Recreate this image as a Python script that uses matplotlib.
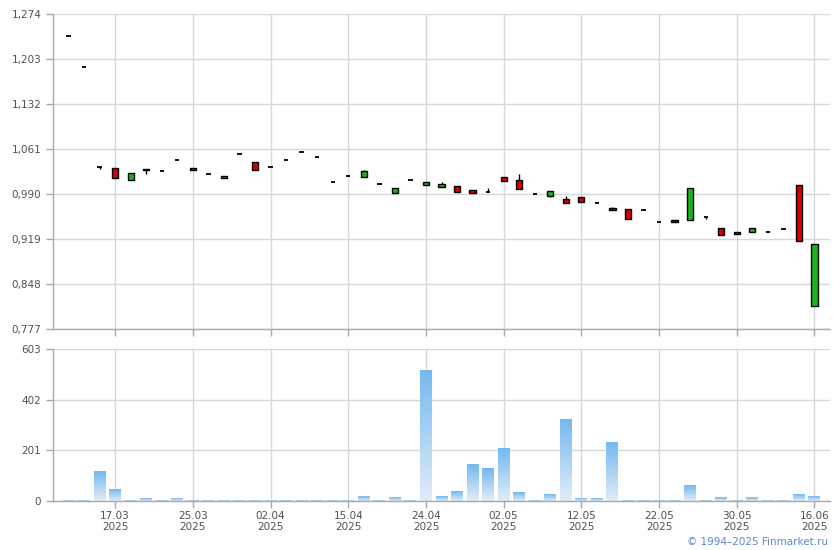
import matplotlib
matplotlib.use("Agg")
import matplotlib.pyplot as plt
import numpy as np
from matplotlib.patches import Rectangle

# ---- data ----
tick_pos = [3, 8, 13, 18, 23, 28, 33, 38, 43, 48]
tick_labels = ["17.03\n2025", "25.03\n2025", "02.04\n2025", "15.04\n2025", "24.04\n2025",
               "02.05\n2025", "12.05\n2025", "22.05\n2025", "30.05\n2025", "16.06\n2025"]

opens = [1.2393, 1.1904, 1.0331, 1.0305, 1.0116, 1.0290, 1.0258, 1.0432, 1.0305, 1.0216,
         1.0148, 1.0526, 1.0400, 1.0321, 1.0432, 1.0558, 1.0479, 1.0084, 1.0179, 1.0173,
         1.0053, 0.9921, 1.0116, 1.0047, 1.0016, 1.0026, 0.9963, 0.9937, 1.0168, 1.0121,
         0.9900, 0.9874, 0.9821, 0.9853, 0.9753, 0.9679, 0.9658, 0.9643, 0.9453, 0.9490,
         0.9485, 0.9532, 0.9359, 0.9300, 0.9296, 0.9296, 0.9343, 1.0037, 0.8133]
closes = [1.2393, 1.1904, 1.0331, 1.0157, 1.0227, 1.0272, 1.0258, 1.0432, 1.0274, 1.0216,
          1.0184, 1.0526, 1.0284, 1.0321, 1.0432, 1.0558, 1.0479, 1.0084, 1.0179, 1.0258,
          1.0053, 0.9990, 1.0116, 1.0089, 1.0058, 0.9936, 0.9921, 0.9937, 1.0110, 0.9984,
          0.9900, 0.9947, 0.9763, 0.9778, 0.9753, 0.9655, 0.9500, 0.9643, 0.9453, 0.9465,
          0.9990, 0.9532, 0.9248, 0.9276, 0.9359, 0.9296, 0.9343, 0.9154, 0.9116]
highs = [1.2393, 1.1904, 1.0331, 1.0305, 1.0227, 1.0290, 1.0258, 1.0432, 1.0305, 1.0216,
         1.0184, 1.0526, 1.0400, 1.0321, 1.0432, 1.0558, 1.0479, 1.0084, 1.0179, 1.0274,
         1.0053, 0.9990, 1.0116, 1.0089, 1.0089, 1.0026, 0.9963, 0.9995, 1.0168, 1.0216,
         0.9900, 0.9947, 0.9868, 0.9853, 0.9753, 0.9690, 0.9658, 0.9643, 0.9453, 0.9490,
         0.9990, 0.9532, 0.9359, 0.9300, 0.9359, 0.9296, 0.9343, 1.0037, 0.9116]
lows = [1.2393, 1.1904, 1.0294, 1.0157, 1.0116, 1.0216, 1.0258, 1.0432, 1.0274, 1.0216,
        1.0148, 1.0526, 1.0284, 1.0321, 1.0432, 1.0558, 1.0479, 1.0084, 1.0179, 1.0173,
        1.0053, 0.9921, 1.0116, 1.0047, 1.0016, 0.9936, 0.9921, 0.9937, 1.0110, 0.9984,
        0.9900, 0.9848, 0.9763, 0.9778, 0.9753, 0.9655, 0.9500, 0.9643, 0.9453, 0.9465,
        0.9485, 0.9510, 0.9248, 0.9276, 0.9296, 0.9296, 0.9343, 0.9154, 0.8133]
volumes = [3, 3, 119, 44, 3, 8, 3, 8, 3, 3,
           3, 3, 3, 3, 3, 3, 3, 3, 3, 16,
           3, 12, 3, 517, 16, 36, 143, 127, 207, 32,
           3, 24, 322, 8, 8, 231, 3, 3, 3, 3,
           60, 3, 12, 3, 12, 3, 3, 24, 16]

price_ticks = [0.777, 0.848, 0.919, 0.990, 1.061, 1.132, 1.203, 1.274]
vol_ticks = [0, 201, 402, 603]

# ---- style ----
grid_c = "#D3D8DD"
spine_c = "#A8A8B0"
text_c = "#505058"
up_c = "#1DB31D"
down_c = "#D40000"

fig = plt.figure(figsize=(8.4, 5.5), dpi=100)
ax1 = fig.add_axes([53/840, 1-329/550, 777/840, 315/550])
ax2 = fig.add_axes([53/840, 1-501/550, 777/840, 152/550])

for ax in (ax1, ax2):
    ax.set_xlim(-1, 49)
    for s in ("top", "right"):
        ax.spines[s].set_visible(False)
    for s in ("left", "bottom"):
        ax.spines[s].set_color(spine_c)
        ax.spines[s].set_linewidth(1)
    ax.set_axisbelow(True)
    ax.grid(True, color=grid_c, linewidth=1)
    ax.tick_params(colors=spine_c, labelcolor=text_c, labelsize=7.5, length=5, width=1)
    ax.set_xticks(tick_pos)
ax2.tick_params(axis="x", pad=2)

# price panel
ax1.set_ylim(price_ticks[0], price_ticks[-1])
ax1.set_yticks(price_ticks)
ax1.set_yticklabels([f"{v:.3f}".replace(".", ",") for v in price_ticks])
ax1.set_xticklabels([])

bw = 0.40
dw = 0.28
for i, (o, h, l, c) in enumerate(zip(opens, highs, lows, closes)):
    if h > max(o, c) or l < min(o, c):
        ax1.plot([i, i], [l, h], color="black", lw=1, zorder=2, solid_capstyle="butt")
    if o == c:
        ax1.plot([i - dw/2, i + dw/2], [o, o], color="black", lw=1.3, zorder=3,
                 solid_capstyle="butt")
    else:
        col = up_c if c > o else down_c
        ax1.add_patch(Rectangle((i - bw/2, min(o, c)), bw, abs(c - o),
                                facecolor=col, edgecolor="black", lw=1, zorder=3))

# volume panel
ax2.set_ylim(0, 603)
ax2.set_yticks(vol_ticks)
ax2.set_yticklabels([str(v) for v in vol_ticks])
ax2.set_xticklabels(tick_labels, linespacing=1.1)

top_rgb = np.array([0x74, 0xB9, 0xF0]) / 255
bot_rgb = np.array([0xE2, 0xEC, 0xF7]) / 255
g = np.linspace(0, 1, 64)[:, None]
grad_img = bot_rgb * (1 - g[:, :, None]) + top_rgb * g[:, :, None]
vw = 0.77
for i, v in enumerate(volumes):
    ax2.imshow(grad_img, extent=[i - vw/2, i + vw/2, 0, v], origin="lower",
               aspect="auto", interpolation="bilinear", zorder=2)
ax2.set_xlim(-1, 49)
ax2.set_ylim(0, 603)

fig.text(828/840, 1-542/550, "© 1994–2025 Finmarket.ru", ha="right", va="center",
         color="#5F86D6", fontsize=7.5)

fig.savefig("out.png", dpi=100)
